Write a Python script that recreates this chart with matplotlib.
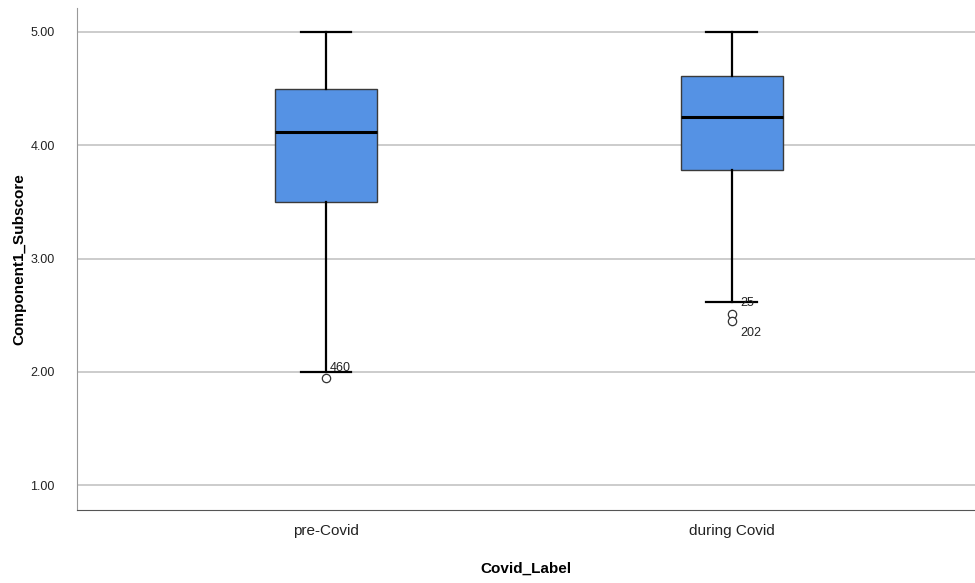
import matplotlib
matplotlib.use("Agg")
import matplotlib.pyplot as plt

plt.rcParams['font.family'] = ['Liberation Sans', 'DejaVu Sans']

# box stats
groups = ['pre-Covid', 'during Covid']
whislo = [2.00, 2.62]
q1 = [3.50, 3.78]
med = [4.12, 4.25]
q3 = [4.50, 4.61]
whishi = [5.00, 5.00]
fliers = [[1.95], [2.51, 2.45]]
flier_ids = [['460'], ['25', '202']]

stats = []
for i, g in enumerate(groups):
    stats.append(dict(label=g, whislo=whislo[i], q1=q1[i], med=med[i],
                      q3=q3[i], whishi=whishi[i], fliers=fliers[i]))

fig = plt.figure(figsize=(9.75, 5.83), dpi=100)
ax = fig.add_axes([0.079, 0.125, 0.921, 0.861])

pos = [1, 2]
ax.bxp(stats, positions=pos, widths=0.25, patch_artist=True,
       boxprops=dict(facecolor='#5592e4', edgecolor='#3a3a3a', linewidth=1),
       medianprops=dict(color='black', linewidth=2.2),
       whiskerprops=dict(color='black', linewidth=1.6),
       capprops=dict(color='black', linewidth=1.6),
       capwidths=0.125,
       flierprops=dict(marker='o', markersize=6, markerfacecolor='white',
                       markeredgecolor='#333333', markeredgewidth=0.9),
       zorder=3)

# outlier case labels
for p, ys, ids in zip(pos, fliers, flier_ids):
    if len(ys) == 1:
        ax.text(p + 0.01, ys[0] + 0.03, ids[0], fontsize=9, va='bottom', ha='left', color='#222222')
    else:
        ax.text(p + 0.02, whislo[p - 1] - 0.01, ids[0], fontsize=9, va='center', ha='left', color='#222222')
        ax.text(p + 0.02, min(ys) - 0.11, ids[1], fontsize=9, va='center', ha='left', color='#222222')

ax.set_xlim(0.387, 2.599)
ax.set_ylim(0.78, 5.21)
ax.set_yticks([1, 2, 3, 4, 5])
ax.set_yticklabels(['%.2f' % v for v in [1, 2, 3, 4, 5]], fontsize=9, color='#222222')
ax.set_xticks(pos)
ax.set_xticklabels(groups, fontsize=11, color='#222222')
ax.tick_params(length=0)
ax.tick_params(axis='x', pad=10)
ax.tick_params(axis='y', pad=16)
ax.yaxis.grid(True, color='#c8c8c8', linewidth=1.3, zorder=0)
ax.set_axisbelow(True)

for s in ['top', 'right']:
    ax.spines[s].set_visible(False)
ax.spines['left'].set_color('#999999')
ax.spines['bottom'].set_color('#555555')

ax.set_xlabel('Covid_Label', fontsize=11, fontweight='bold', labelpad=17)
ax.set_ylabel('Component1_Subscore', fontsize=11, fontweight='bold', labelpad=3)

fig.savefig('out.png', dpi=100)
